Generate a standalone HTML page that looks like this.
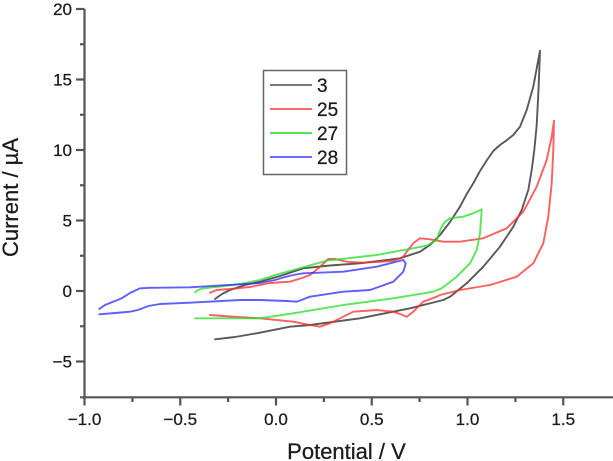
<!DOCTYPE html>
<html>
<head>
<meta charset="utf-8">
<style>
  html, body { margin:0; padding:0; background:#fff; }
  svg { display:block; }
  text { font-family: "Liberation Sans", Arial, sans-serif; fill:#1a1a1a; stroke:#1a1a1a; stroke-width:0.25; }
</style>
</head>
<body>
<svg width="613" height="461" viewBox="0 0 613 461" xmlns="http://www.w3.org/2000/svg">
  <!-- axes -->
  <g stroke="#555" stroke-width="2.2" fill="none">
    <line x1="84.5" y1="9" x2="84.5" y2="405.5"/>
    <line x1="80" y1="397.3" x2="613" y2="397.3"/>
    <line x1="76" y1="9" x2="84.5" y2="9"/>
    <line x1="76" y1="79.5" x2="84.5" y2="79.5"/>
    <line x1="76" y1="150" x2="84.5" y2="150"/>
    <line x1="76" y1="220.5" x2="84.5" y2="220.5"/>
    <line x1="76" y1="291" x2="84.5" y2="291"/>
    <line x1="76" y1="361.5" x2="84.5" y2="361.5"/>
    <line x1="80" y1="44.25" x2="84.5" y2="44.25"/>
    <line x1="80" y1="114.75" x2="84.5" y2="114.75"/>
    <line x1="80" y1="185.25" x2="84.5" y2="185.25"/>
    <line x1="80" y1="255.75" x2="84.5" y2="255.75"/>
    <line x1="80" y1="326.25" x2="84.5" y2="326.25"/>
    <line x1="180.25" y1="397.3" x2="180.25" y2="405.5"/>
    <line x1="276" y1="397.3" x2="276" y2="405.5"/>
    <line x1="371.75" y1="397.3" x2="371.75" y2="405.5"/>
    <line x1="467.5" y1="397.3" x2="467.5" y2="405.5"/>
    <line x1="563.25" y1="397.3" x2="563.25" y2="405.5"/>
    <line x1="132.4" y1="397.3" x2="132.4" y2="402"/>
    <line x1="228.1" y1="397.3" x2="228.1" y2="402"/>
    <line x1="323.9" y1="397.3" x2="323.9" y2="402"/>
    <line x1="419.6" y1="397.3" x2="419.6" y2="402"/>
    <line x1="515.4" y1="397.3" x2="515.4" y2="402"/>
  </g>

  <g font-size="17" text-anchor="end">
    <text x="72" y="15">20</text>
    <text x="72" y="85.5">15</text>
    <text x="72" y="156">10</text>
    <text x="72" y="226.5">5</text>
    <text x="72" y="297">0</text>
    <text x="72" y="367.5">−5</text>
  </g>
  <g font-size="17" text-anchor="middle">
    <text x="84.5" y="425">−1.0</text>
    <text x="180.25" y="425">−0.5</text>
    <text x="276" y="425">0.0</text>
    <text x="371.75" y="425">0.5</text>
    <text x="467.5" y="425">1.0</text>
    <text x="563.25" y="425">1.5</text>
  </g>

  <text x="346.5" y="459" font-size="22" text-anchor="middle">Potential / V</text>
  <text transform="translate(18,197.5) rotate(-90)" font-size="22" text-anchor="middle">Current / µA</text>

  <g fill="none" stroke-width="1.9" stroke-linejoin="round" stroke-linecap="round">
    <polyline stroke="#3c3c3c" stroke-opacity="0.85" points="215,299 222,294 230,290 245,285 260,281.7 280,276 303.3,268.3 330,265.5 360,263.3 400,258.3 420,251.7 430,245 440,235 450,222 460,206.7 466.7,194 473.3,183.3 480,171 487,160 493.3,151 500,145 507,140 513.3,135 520,126.7 526.7,110 533.3,86.7 540,50.7 538.5,90 536.7,125 534.3,150 531.7,170 528.3,190 521.7,210 513.3,226.7 500,246.7 483.3,266.7 466.7,283.3 450,296.7 443.3,300 410,308.3 360,318.3 310,325 290,326.7 256.7,333.3 235,337 215,339.3"/>
    <polyline stroke="#ff2a2a" stroke-opacity="0.75" points="210,292.7 216.7,290 230,289 250,287 270,283 290,281.7 302,278 310,275 318.3,268.3 328.3,259 335,259 346.7,261.7 363.3,262.7 393.3,261 403.3,256.7 408,250 413.3,243.3 420,238.3 430,239.3 443.3,241.7 460,241.7 483.3,238.3 506.7,228.3 523.3,211.7 536.7,186.7 546.7,160 551.7,136.7 554,120.7 553.3,150 551.7,183.3 548.3,216.7 543.3,243.3 533.3,263.3 516.7,276.7 490,285 460,290 440,295 436.7,296.7 423.3,301.7 413.3,311.7 406.7,316.7 400,314 393.3,311.7 376.7,310 353.3,311.7 340,318.3 330,323.3 320,326.7 310,325 293.3,321.7 260,318.3 230,316.5 210,315"/>
    <polyline stroke="#22dd22" stroke-opacity="0.75" points="195,292.3 199,289.5 203.3,288.3 220,286.5 240,284 260,280 275,275 293.3,270 326.7,260.7 376.7,255 426.7,245.7 436.7,240 439,233 441.7,226.7 445,221.7 450,218.3 463.3,216.7 473.3,213.3 481.7,209.3 480,233.3 476.7,250 470,263.3 456.7,276.7 441.7,288.3 433.3,291.7 393.3,298.3 343.3,305 293.3,313.3 260,318.3 195,318.3"/>
    <polyline stroke="#2a2aff" stroke-opacity="0.75" points="99.3,309 105,305 115,301 121.7,298.3 130,293 140,288.3 150,287.8 190,287.3 240,284.3 260,283 275,280 285,277 293.3,275 303.3,273.3 343.3,271.7 376.7,266.7 403.3,260 405.7,263.3 404.5,268 403.3,271.7 393.3,281.7 370,290 343.3,291.7 310,296.7 300,300.5 296.7,301.7 286.7,301 260,300 240,300 190,302.7 160,304 148.3,306 138,310 130,311.7 115,313 99.3,314.3"/>
  </g>

  <rect x="263.5" y="70.5" width="83" height="104" fill="#fff" stroke="#666" stroke-width="1.5"/>
  <g stroke-width="2">
    <line x1="270" y1="85" x2="312" y2="85" stroke="#777"/>
    <line x1="270" y1="109" x2="312" y2="109" stroke="#ff6a6a"/>
    <line x1="270" y1="133" x2="312" y2="133" stroke="#5ae05a"/>
    <line x1="270" y1="157" x2="312" y2="157" stroke="#6a6aff"/>
  </g>
  <g font-size="19">
    <text x="317" y="92">3</text>
    <text x="317" y="116">25</text>
    <text x="317" y="140">27</text>
    <text x="317" y="164">28</text>
  </g>
</svg>
</body>
</html>
